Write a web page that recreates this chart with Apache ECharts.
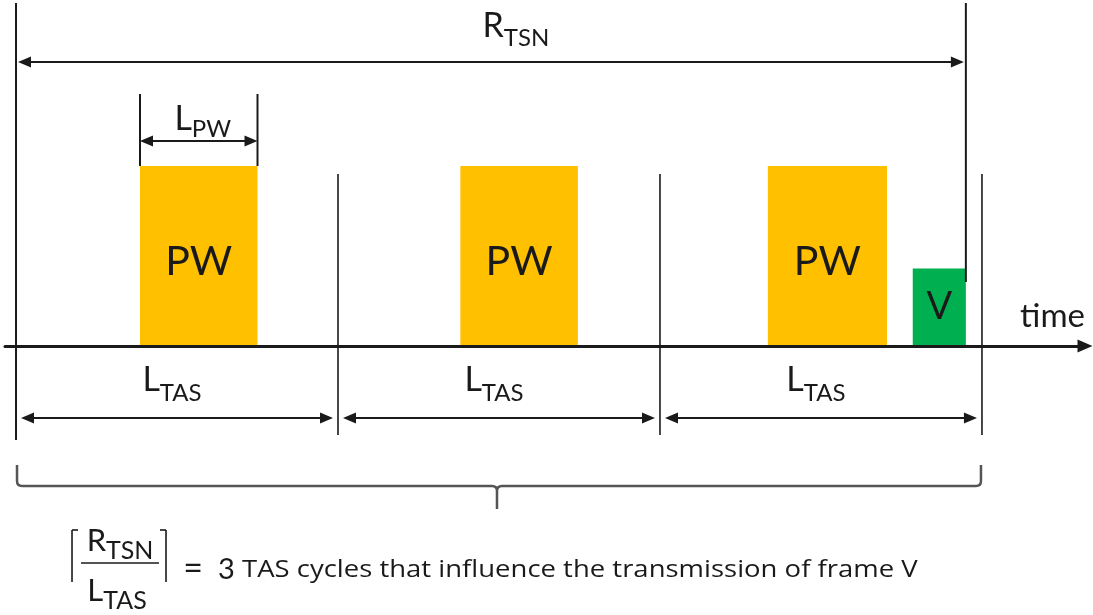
<!DOCTYPE html>
<html>
<head>
<meta charset="utf-8">
<script src="https://cdn.jsdelivr.net/npm/echarts@6/dist/echarts.min.js"></script>
<style>html,body{margin:0;padding:0;background:#fff;}</style>
</head>
<body>
<div id="main" style="width:1093px;height:615px;"></div>
<script type="text/javascript">
// time unit: one TAS cycle (L_TAS) = 100
var cycleBounds = [0, 100, 200, 300];
var cycleNames = ['TAS', 'TAS', 'TAS'];
var pwStart = [38.5, 138, 233.5];
var pwEnd = [75, 174.5, 270.5];
var pwHeight = [1, 1, 1];
var vFrame = [278.5, 295];
var vHeight = 0.43;
var rTsn = [0, 295];
var tasCycles = 3;

var ink = '#1a1a1a';
var font = 'Lato, "Open Sans", sans-serif';
var ctx = document.createElement('canvas').getContext('2d');
function tw(s, size) { ctx.font = size + 'px ' + font; return ctx.measureText(s).width; }

function txt(x, base, s, size, align, fam) {
  return { type: 'text', style: { text: s, x: x, y: base - size * 0.36, fontSize: size, fontFamily: fam || font,
    fill: ink, align: align || 'center', verticalAlign: 'middle' } };
}
// main letter + subscript, centred on cx
function subLabel(cx, base, main, sub, ms, ss, drop) {
  var wm = tw(main, ms), ws = tw(sub, ss);
  var split = cx - (wm + ws) / 2 + wm;
  return [txt(split, base, main, ms, 'right'), txt(split, base + drop, sub, ss, 'left')];
}
function seg(x1, y1, x2, y2, w, c) {
  return { type: 'line', shape: { x1: x1, y1: y1, x2: x2, y2: y2 }, style: { stroke: c || ink, lineWidth: w || 2 } };
}
function head(x, y, dir) {
  var L = 13, W = 11;
  return { type: 'polygon', shape: { points: [[x, y], [x - dir * L, y - W / 2], [x - dir * L, y + W / 2]] }, style: { fill: ink } };
}
function dim(x1, x2, y) {
  return [seg(x1 + 5, y, x2 - 5, y, 2), head(x1, y, -1), head(x2, y, 1)];
}

var myChart = echarts.init(document.getElementById('main'));

var option = {
  backgroundColor: '#fff',
  animation: false,
  grid: { left: 5, right: 8, top: 0, bottom: 0 },
  xAxis: {
    type: 'value', min: -3.42, max: 332, z: 5,
    axisLine: { show: true, onZero: true, symbol: ['none', 'triangle'], symbolSize: [13, 15],
      lineStyle: { color: ink, width: 3 } },
    axisTick: { show: false }, axisLabel: { show: false }, splitLine: { show: false }
  },
  yAxis: { type: 'value', min: -1.494, max: 1.922, show: false },
  series: [
    {
      type: 'custom', name: 'PW', silent: true,
      data: pwStart.map(function (s, i) { return [s, pwEnd[i], pwHeight[i]]; }),
      renderItem: function (params, api) {
        var a = api.coord([api.value(0), 0]), b = api.coord([api.value(1), api.value(2)]);
        var ch = [
          { type: 'rect', shape: { x: a[0], y: b[1], width: b[0] - a[0], height: a[1] - b[1] - 1 }, style: { fill: '#FFC000' } },
          txt((a[0] + b[0]) / 2, (a[1] + b[1]) / 2 + 21, 'PW', 41)
        ];
        if (params.dataIndex === 0) {
          var top = b[1] - 72, ay = b[1] - 25;
          ch.push(seg(a[0], top, a[0], b[1], 2), seg(b[0], top, b[0], b[1], 2));
          ch = ch.concat(dim(a[0], b[0], ay), subLabel((a[0] + b[0]) / 2 + 4, ay - 10, 'L', 'PW', 34, 24, 7));
        }
        return { type: 'group', children: ch };
      }
    },
    {
      type: 'custom', name: 'V', silent: true,
      data: [[vFrame[0], vFrame[1], vHeight]],
      renderItem: function (params, api) {
        var a = api.coord([api.value(0), 0]), b = api.coord([api.value(1), api.value(2)]);
        return { type: 'group', children: [
          { type: 'rect', shape: { x: a[0], y: b[1], width: b[0] - a[0], height: a[1] - b[1] - 1 }, style: { fill: '#00B050' } },
          txt((a[0] + b[0]) / 2, (a[1] + b[1]) / 2 + 13, 'V', 38)
        ] };
      }
    },
    {
      type: 'custom', name: 'cycles', silent: true,
      data: cycleBounds.map(function (t, i) { return [t, i]; }),
      renderItem: function (params, api) {
        var i = api.value(1), p = api.coord([api.value(0), 0]);
        var ch = [];
        if (i === 0) ch.push(seg(p[0], 3, p[0], p[1] + 94, 2));
        else ch.push(seg(p[0], p[1] - 172, p[0], p[1] + 89, 1.6));
        if (i < cycleBounds.length - 1) {
          var q = api.coord([cycleBounds[i + 1], 0]);
          ch = ch.concat(dim(p[0] + 5, q[0] - 5, p[1] + 72),
            subLabel((p[0] + q[0]) / 2 - 5, p[1] + 46, 'L', cycleNames[i], 34, 24, 10));
        }
        return { type: 'group', children: ch };
      }
    },
    {
      type: 'custom', name: 'RTSN', silent: true,
      data: [rTsn],
      renderItem: function (params, api) {
        var a = api.coord([api.value(0), 0]), b = api.coord([api.value(1), 0]);
        var y = 62;
        var ch = [seg(b[0], 3, b[0], 282, 2)];
        ch = ch.concat(dim(a[0] + 2, b[0] - 2, y), subLabel((a[0] + b[0]) / 2 + 25, 38, 'R', 'TSN', 34, 24, 9));
        ch.push(txt(1085, b[1] - 18, 'time', 33, 'right'));
        return { type: 'group', children: ch };
      }
    },
    {
      type: 'custom', name: 'formula', silent: true,
      data: [[cycleBounds[0], cycleBounds[cycleBounds.length - 1], tasCycles]],
      renderItem: function (params, api) {
        var a = api.coord([api.value(0), 0]), b = api.coord([api.value(1), 0]);
        var x0 = a[0] + 1, x1 = b[0] - 1, xc = (x0 + x1) / 2 - 2;
        var y0 = a[1] + 119, yh = a[1] + 140, yt = a[1] + 163, r = 5;
        var d = 'M' + x0 + ' ' + y0 + 'L' + x0 + ' ' + (yh - r) + 'Q' + x0 + ' ' + yh + ' ' + (x0 + r) + ' ' + yh +
          'L' + (xc - r) + ' ' + yh + 'Q' + xc + ' ' + yh + ' ' + xc + ' ' + (yh + r) + 'L' + xc + ' ' + yt +
          'M' + xc + ' ' + (yh + r) + 'Q' + xc + ' ' + yh + ' ' + (xc + r) + ' ' + yh +
          'L' + (x1 - r) + ' ' + yh + 'Q' + x1 + ' ' + yh + ' ' + x1 + ' ' + (yh - r) + 'L' + x1 + ' ' + y0;
        var ch = [{ type: 'path', shape: { pathData: d }, style: { stroke: '#555', lineWidth: 2.5, fill: null } }];
        var fx = a[0];
        // ceiling brackets and fraction
        ch.push(seg(fx + 56, 530, fx + 56, 582, 1.6), seg(fx + 56, 530, fx + 62, 530, 1.6));
        ch.push(seg(fx + 150, 530, fx + 150, 582, 1.6), seg(fx + 144, 530, fx + 150, 530, 1.6));
        ch.push(seg(fx + 65, 563, fx + 143, 563, 1.5));
        ch = ch.concat(subLabel(fx + 104, 552, 'R', 'TSN', 31, 25, 8), subLabel(fx + 101, 602, 'L', 'TAS', 31, 25, 8));
        ch.push(txt(fx + 177, 581, '=', 34), txt(fx + 202, 580, String(api.value(2)), 29, 'left'));
        var sentence = txt(0, 0, 'TAS cycles that influence the transmission of frame V', 24, 'left', '"Open Sans", Lato, sans-serif');
        sentence.x = fx + 226;
        sentence.y = 579;
        sentence.scaleX = 1.145;
        ch.push(sentence);
        return { type: 'group', children: ch };
      }
    }
  ]
};
myChart.setOption(option);
</script>
</body>
</html>
